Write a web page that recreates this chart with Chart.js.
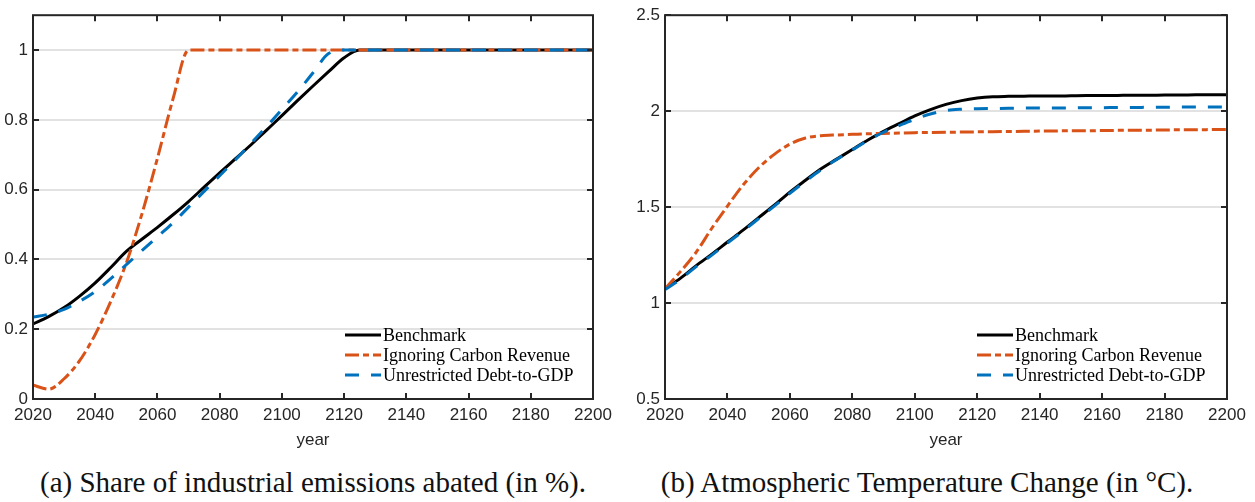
<!DOCTYPE html>
<html>
<head>
<meta charset="utf-8">
<script src="https://cdn.jsdelivr.net/npm/chart.js@4/dist/chart.umd.min.js"></script>
<style>
  body { margin: 0; background: #fff; width: 1255px; height: 502px; position: relative; overflow: hidden; }
  .box { position: absolute; top: 0; height: 460px; }
  .cap { position: absolute; top: 466px; font-family: "Liberation Serif", serif; font-size: 29px; color: #111; white-space: nowrap; transform: translateX(-50%); }
</style>
</head>
<body>
<div class="box" style="left:0;width:620px"><canvas id="abate"></canvas></div>
<div class="box" style="left:632px;width:623px"><canvas id="temp"></canvas></div>
<div class="cap" style="left:313px">(a) Share of industrial emissions abated (in %).</div>
<div class="cap" style="left:927px">(b) Atmospheric Temperature Change (in °C).</div>
<script>
// years, every 5 years
var years = [2020,2025,2030,2035,2040,2045,2050,2055,2060,2065,2070,2075,2080,2085,2090,2095,2100,2105,2110,2115,2120,2125,2130,2135,2140,2145,2150,2155,2160,2165,2170,2175,2180,2185,2190,2195,2200];
var seriesNames = ["Benchmark", "Ignoring Carbon Revenue", "Unrestricted Debt-to-GDP"];

// (a) share abated
var benchAbate = [0.215,0.236,0.262,0.295,0.333,0.377,0.423,0.458,0.492,0.528,0.566,0.607,0.648,0.688,0.728,0.770,0.812,0.855,0.897,0.938,0.978,1,1,1,1,1,1,1,1,1,1,1,1,1,1,1,1];
var ignoreAbate = [0.04,0.028,0.058,0.11,0.185,0.28,0.39,0.53,0.69,0.86,1,1,1,1,1,1,1,1,1,1,1,1,1,1,1,1,1,1,1,1,1,1,1,1,1,1,1];
var debtAbate = [0.235,0.243,0.257,0.28,0.308,0.345,0.385,0.425,0.465,0.505,0.55,0.595,0.64,0.685,0.732,0.78,0.83,0.88,0.935,0.99,1,1,1,1,1,1,1,1,1,1,1,1,1,1,1,1,1];

// (b) temperature change
var benchTemp = [1.074,1.13,1.195,1.255,1.318,1.38,1.445,1.51,1.578,1.64,1.70,1.75,1.80,1.85,1.895,1.935,1.975,2.008,2.035,2.055,2.068,2.075,2.077,2.078,2.079,2.079,2.080,2.081,2.081,2.082,2.083,2.083,2.084,2.084,2.085,2.085,2.086];
var ignoreTemp = [1.074,1.165,1.265,1.39,1.505,1.615,1.705,1.775,1.828,1.860,1.872,1.876,1.879,1.882,1.884,1.886,1.888,1.889,1.890,1.891,1.892,1.893,1.894,1.895,1.896,1.897,1.898,1.898,1.899,1.900,1.901,1.901,1.902,1.903,1.903,1.904,1.905];
var debtTemp = [1.07,1.125,1.19,1.25,1.313,1.375,1.44,1.505,1.572,1.635,1.695,1.748,1.798,1.848,1.89,1.925,1.958,1.985,2.003,2.01,2.013,2.014,2.015,2.016,2.016,2.017,2.017,2.018,2.018,2.019,2.019,2.020,2.020,2.021,2.021,2.022,2.022];

var axisColor = "#262626";
var styles = [
  { color: "#000000", dash: [], order: 2 },
  { color: "#D95319", dash: [14, 4, 6, 4], order: 1 },
  { color: "#0072BD", dash: [14, 12], order: 0 }
];

function pts(vals) {
  return vals.map(function (v, i) { return { x: years[i], y: v }; });
}

// box, inward tick marks and the legend inside the axes
var matlabAxes = {
  id: "matlabAxes",
  afterDatasetsDraw: function (chart) {
    var ctx = chart.ctx, a = chart.chartArea;
    var xs = chart.scales.x, ys = chart.scales.y;
    ctx.save();
    ctx.strokeStyle = axisColor;
    ctx.lineWidth = 2;
    ctx.beginPath();
    xs.ticks.forEach(function (t) {
      var p = Math.round(xs.getPixelForValue(t.value));
      ctx.moveTo(p, a.bottom); ctx.lineTo(p, a.bottom - 6);
      ctx.moveTo(p, a.top); ctx.lineTo(p, a.top + 6);
    });
    ys.ticks.forEach(function (t) {
      var p = Math.round(ys.getPixelForValue(t.value));
      ctx.moveTo(a.left, p); ctx.lineTo(a.left + 6, p);
      ctx.moveTo(a.right, p); ctx.lineTo(a.right - 6, p);
    });
    ctx.stroke();
    ctx.strokeRect(a.left, a.top, a.right - a.left, a.bottom - a.top);
    ctx.restore();
  },
  afterDraw: function (chart) {
    var ctx = chart.ctx, a = chart.chartArea;
    var x0 = a.left + 312, y0 = a.bottom - 64;
    ctx.save();
    ctx.font = "18px 'Liberation Serif'";
    ctx.textBaseline = "middle";
    chart.data.datasets.forEach(function (ds, i) {
      var y = y0 + i * 20;
      ctx.strokeStyle = ds.borderColor;
      ctx.lineWidth = 3;
      ctx.setLineDash(ds.borderDash);
      ctx.beginPath();
      ctx.moveTo(x0, y); ctx.lineTo(x0 + 36, y);
      ctx.stroke();
      ctx.setLineDash([]);
      ctx.fillStyle = "#000";
      ctx.fillText(ds.label, x0 + 38, y + 1);
    });
    ctx.restore();
  }
};

function makeChart(id, series, yMin, yMax, yStep, padRight) {
  var datasets = series.map(function (vals, i) {
    return {
      label: seriesNames[i],
      data: pts(vals),
      borderColor: styles[i].color,
      borderDash: styles[i].dash,
      order: styles[i].order,
      borderWidth: 3,
      pointRadius: 0,
      fill: false,
      cubicInterpolationMode: "monotone"
    };
  });
  return new Chart(document.getElementById(id), {
    type: "line",
    data: { datasets: datasets },
    plugins: [matlabAxes],
    options: {
      responsive: true,
      maintainAspectRatio: false,
      animation: false,
      layout: { padding: { top: 11, right: padRight, left: 0, bottom: 0 } },
      plugins: { legend: { display: false }, tooltip: { enabled: false } },
      scales: {
        x: {
          type: "linear", min: 2020, max: 2200,
          grid: { display: false, drawTicks: false },
          border: { display: false },
          ticks: { stepSize: 20, padding: 6, color: axisColor, maxRotation: 0,
                   font: { family: "'Liberation Sans'", size: 17 },
                   callback: function (v) { return String(v); } },
          title: { display: true, text: "year", color: axisColor,
                   font: { family: "'Liberation Sans'", size: 17 },
                   padding: { top: 0, bottom: 9 } },
          afterFit: function (s) { s.height = 61; }
        },
        y: {
          min: yMin, max: yMax,
          grid: { color: "#e2e2e2", lineWidth: 2, drawTicks: false },
          border: { display: false },
          ticks: { stepSize: yStep, includeBounds: false, padding: 5, color: axisColor,
                   font: { family: "'Liberation Sans'", size: 17 },
                   callback: function (v) { return String(+v.toFixed(2)); } },
          afterFit: function (s) { s.width = 33; }
        }
      }
    }
  });
}

makeChart("abate", [benchAbate, ignoreAbate, debtAbate], 0, 1.1, 0.2, 27);
makeChart("temp", [benchTemp, ignoreTemp, debtTemp], 0.5, 2.5, 0.5, 28);
</script>
</body>
</html>
